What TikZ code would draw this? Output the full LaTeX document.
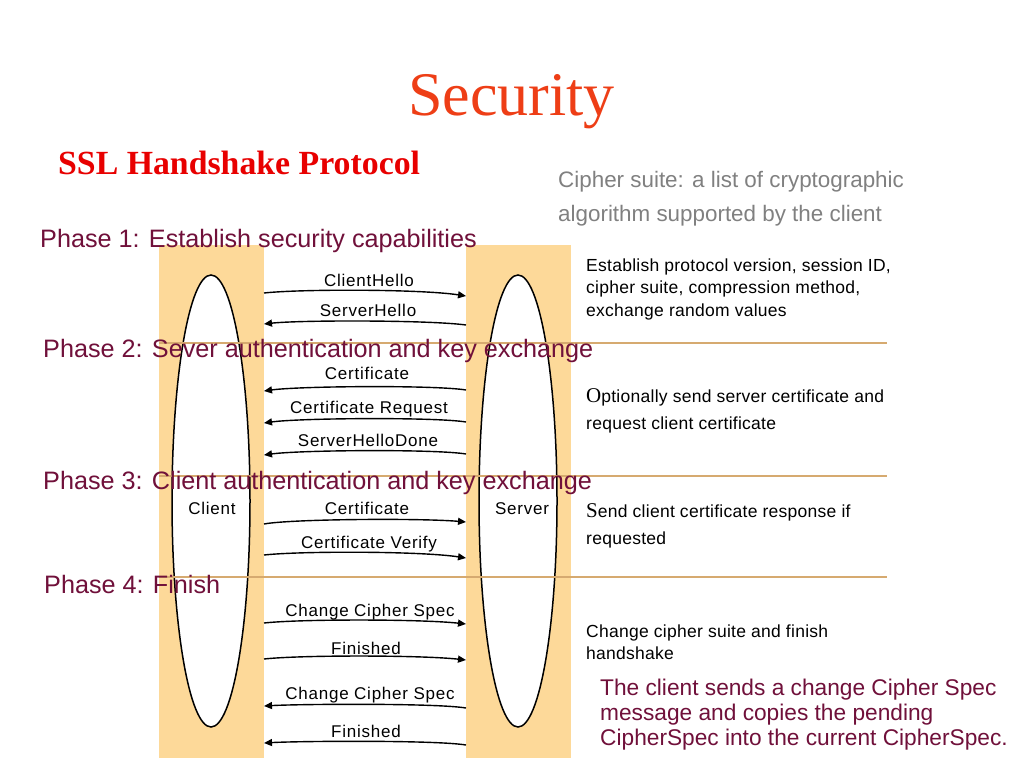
\documentclass[tikz,border=0pt]{standalone}
\usepackage{fontspec}
\setmainfont{Liberation Sans}
\newfontfamily\seriffont{Liberation Serif}
\newfontfamily\looseA[LetterSpace=4.5]{Liberation Sans}
\newfontfamily\looseB[LetterSpace=1.5]{Liberation Sans}
\usetikzlibrary{arrows.meta,shapes.geometric}
\definecolor{colbg}{RGB}{253,217,153}
\definecolor{sepline}{RGB}{214,170,112}
\definecolor{phasecol}{RGB}{112,16,58}
\definecolor{titlered}{RGB}{238,62,22}
\definecolor{subred}{RGB}{232,0,0}
\definecolor{graytxt}{RGB}{128,128,128}
\begin{document}
\begin{tikzpicture}[x=1pt,y=-1pt,
  column/.style={fill=colbg, draw=none, inner sep=0pt, minimum width=105pt, minimum height=513pt},
  party/.style={draw=black, fill=white, ellipse, line width=1.5pt, inner sep=0pt, minimum width=78pt, minimum height=452pt},
  msg/.style={line width=1.4pt, -{Triangle[length=8pt,width=7pt]}},
  lbl/.style={anchor=base, inner sep=0pt, font=\looseA\fontsize{17}{19}\selectfont},
  desc/.style={anchor=base west, inner sep=0pt, font=\looseB\fontsize{17.5}{19}\selectfont},
  note/.style={anchor=base west, inner sep=0pt, text=phasecol, font=\fontsize{22.7}{25}\selectfont},
  phase/.style={anchor=base west, inner sep=0pt, text=phasecol, font=\fontsize{25.2}{28}\selectfont},
  sep/.style={draw=sepline, line width=2pt},
  gray/.style={anchor=base west, inner sep=0pt, text=graytxt, font=\fontsize{22.4}{24}\selectfont}
]
\useasboundingbox (0,0) rectangle (1024,768);
\fill[white] (0,0) rectangle (1024,768);

% titles
\node[anchor=base, inner sep=0pt, text=titlered, font=\seriffont\fontsize{62}{70}\selectfont] (title) at (511.5,115) {Security};
\node[anchor=base west, inner sep=0pt, text=subred, font=\seriffont\bfseries\fontsize{33.8}{38}\selectfont] (sub) at (58,174) {SSL Handshake Protocol};
\node[gray] (cs1) at (558,187) {Cipher suite: a list of cryptographic};
\node[gray] (cs2) at (558,221) {algorithm supported by the client};

% columns
\node[column] (crect) at (211.5,501.5) {};
\node[column] (srect) at (518.5,501.5) {};
\node[party] (cell) at (211,501) {};
\node[party] (sell) at (518,501) {};
\node[lbl] (clientlbl) at (212,514) {Client};
\node[lbl] (serverlbl) at (522,514) {Server};

% messages
\coordinate (a1s) at (264,293);  \coordinate (a1e) at (466,296);
\coordinate (a2s) at (466,325);  \coordinate (a2e) at (264,324);
\coordinate (a3s) at (466,390);  \coordinate (a3e) at (264,391);
\coordinate (a4s) at (466,422);  \coordinate (a4e) at (264,423);
\coordinate (a5s) at (466,454);  \coordinate (a5e) at (264,455);
\coordinate (a6s) at (264,524);  \coordinate (a6e) at (466,522);
\coordinate (a7s) at (264,555);  \coordinate (a7e) at (466,558);
\coordinate (a8s) at (264,623);  \coordinate (a8e) at (466,624);
\coordinate (a9s) at (264,659);  \coordinate (a9e) at (466,660);
\coordinate (a10s) at (466,708); \coordinate (a10e) at (264,706);
\coordinate (a11s) at (466,745); \coordinate (a11e) at (264,743);

\draw[msg] (a1s) .. controls (300,289) and (420,289) .. (a1e);
\draw[msg] (a2s) .. controls (430,320) and (300,320) .. (a2e);
\draw[msg] (a3s) .. controls (436,385) and (300,386) .. (a3e);
\draw[msg] (a4s) .. controls (436,417) and (300,418) .. (a4e);
\draw[msg] (a5s) .. controls (436,449) and (300,450) .. (a5e);
\draw[msg] (a6s) .. controls (290,519) and (420,518) .. (a6e);
\draw[msg] (a7s) .. controls (300,551) and (420,551) .. (a7e);
\draw[msg] (a8s) .. controls (300,619) and (420,619) .. (a8e);
\draw[msg] (a9s) .. controls (300,655) and (420,655) .. (a9e);
\draw[msg] (a10s) .. controls (436,703) and (300,704) .. (a10e);
\draw[msg] (a11s) .. controls (436,740) and (300,741) .. (a11e);

\node[lbl] (l1) at (369,286) {ClientHello};
\node[lbl] (l2) at (368,316) {ServerHello};
\node[lbl] (l3) at (367,379) {Certificate};
\node[lbl] (l4) at (369,413) {Certificate Request};
\node[lbl] (l5) at (368,446) {ServerHelloDone};
\node[lbl] (l6) at (367,514) {Certificate};
\node[lbl] (l7) at (369,548) {Certificate Verify};
\node[lbl] (l8) at (370,616) {Change Cipher Spec};
\node[lbl] (l9) at (366,654) {Finished};
\node[lbl] (l10) at (370,699) {Change Cipher Spec};
\node[lbl] (l11) at (366,737) {Finished};

% descriptions
\node[desc] (d1a) at (586,271) {Establish protocol version, session ID,};
\node[desc] (d1b) at (586,293) {cipher suite, compression method,};
\node[desc] (d1c) at (586,316) {exchange random values};
\node[desc] (d2a) at (586,402) {{\seriffont\fontsize{21}{22}\selectfont O}ptionally send server certificate and};
\node[desc] (d2b) at (586,429) {request client certificate};
\node[desc] (d3a) at (586,517) {{\seriffont\fontsize{21}{22}\selectfont S}end client certificate response if};
\node[desc] (d3b) at (586,544) {requested};
\node[desc] (d4a) at (586,637) {Change cipher suite and finish};
\node[desc] (d4b) at (586,659) {handshake};
\node[note] (n1) at (600,695) {The client sends a change Cipher Spec};
\node[note] (n2) at (600,720) {message and copies the pending};
\node[note] (n3) at (600,745) {CipherSpec into the current CipherSpec.};

% phase separators
\coordinate (s2l) at (159,343); \coordinate (s2r) at (887,343);
\coordinate (s3l) at (159,476); \coordinate (s3r) at (887,476);
\coordinate (s4l) at (159,577); \coordinate (s4r) at (887,577);
\draw[sep] (s2l) -- (s2r);
\draw[sep] (s3l) -- (s3r);
\draw[sep] (s4l) -- (s4r);

\node[phase] (p1) at (40,247) {Phase 1: Establish security capabilities};
\node[phase] (p2) at (43,357) {Phase 2: Sever authentication and key exchange};
\node[phase] (p3) at (43,489) {Phase 3: Client authentication and key exchange};
\node[phase] (p4) at (44,593) {Phase 4: Finish};
\end{tikzpicture}
\end{document}
